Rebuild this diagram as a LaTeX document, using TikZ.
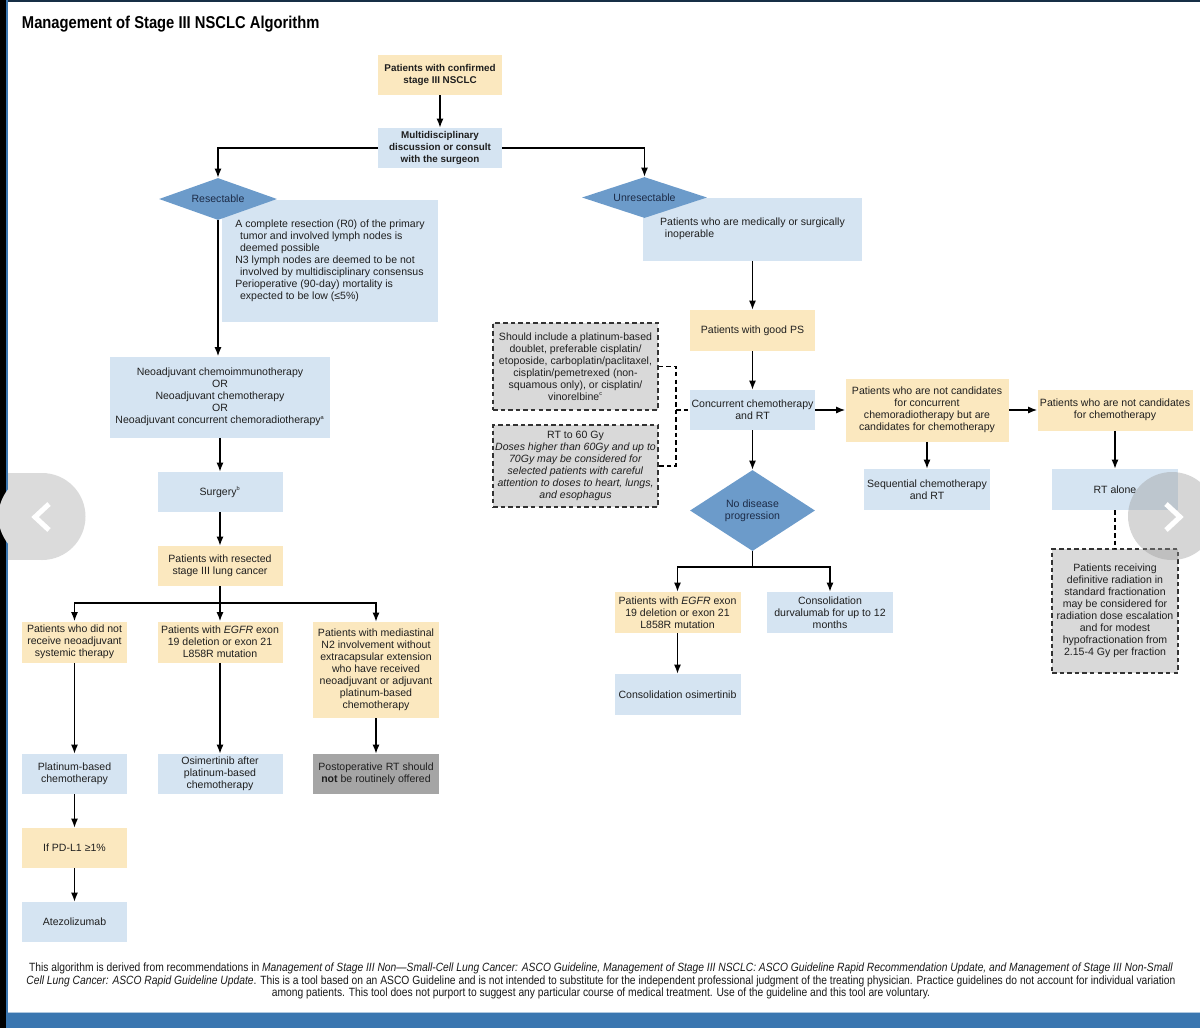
\documentclass[tikz,border=0pt]{standalone}
\usepackage{fontspec}
\setmainfont{Liberation Sans}
\newfontfamily\condfont[FakeStretch=0.86]{Liberation Sans}
\usepackage{xcolor}
\usetikzlibrary{positioning,arrows.meta,shapes.geometric}

\definecolor{boxblue}{HTML}{D5E4F2}
\definecolor{boxyellow}{HTML}{FBE8BF}
\definecolor{decblue}{HTML}{6C9BCA}
\definecolor{notegray}{HTML}{D9D9D9}
\definecolor{stopgray}{HTML}{A5A5A5}
\definecolor{bartint}{HTML}{3A76B0}
\definecolor{navytext}{HTML}{1C2B47}

\newcommand{\fnmark}[1]{\textsuperscript{\fontsize{4}{4}\selectfont #1}}

\tikzset{
    wh/.style 2 args={minimum width=#1*0.025cm, minimum height=#2*0.025cm},
    box/.style={rectangle, inner sep=1pt, align=center, text=black!88,
                font=\fontsize{7.5}{8.5}\selectfont},
    boldtext/.style={font=\fontsize{7}{8.5}\selectfont\bfseries},
    bluebox/.style={box, fill=boxblue},
    yellowbox/.style={box, fill=boxyellow},
    stopbox/.style={box, fill=stopgray},
    notebox/.style={box, fill=notegray, draw=black!80, line width=0.9pt,
                    dash pattern=on 3.2pt off 2.2pt},
    decision/.style={diamond, fill=decblue, inner sep=0pt, align=center,
                     text=navytext, font=\fontsize{7.5}{8.5}\selectfont},
    arr/.style={-{Latex[length=6.5pt,width=5pt]}, line width=0.9pt},
    dashline/.style={line width=0.9pt, dash pattern=on 3.2pt off 2.2pt},
}

\begin{document}
\begin{tikzpicture}[x=0.025cm, y=-0.025cm]
    % page frame
    \useasboundingbox (0,0) rectangle (1200,1028);
    \fill[bartint] (0,1013) rectangle (1200,1028);
    \fill[bartint!40] (0,1011.5) rectangle (1200,1013);
    \fill[black!60!bartint] (0,0) rectangle (1200,2);
    \fill[black] (0,0) rectangle (6,1028);
    \fill[bartint] (6,0) rectangle (7.5,1028);

    \node[anchor=west, font=\condfont\bfseries\fontsize{12.2}{14}\selectfont] (title)
        at (17,24) {Management of Stage III NSCLC Algorithm};

    % top of the algorithm
    \node[yellowbox, wh={124}{40}, boldtext] (confirm) at (440,75)
        {Patients with confirmed\\stage III NSCLC};
    \node[bluebox, wh={124}{40}, boldtext] (multi) at (440,148)
        {Multidisciplinary\\discussion or consult\\with the surgeon};

    % resectable branch
    \node[bluebox, wh={216}{122}, align=left] (crit) at (330,261)
        {A complete resection (R0) of the primary\\
         \hspace*{0.45em}tumor and involved lymph nodes is\\
         \hspace*{0.45em}deemed possible\\
         N3 lymph nodes are deemed to be not\\
         \hspace*{0.45em}involved by multidisciplinary consensus\\
         Perioperative (90-day) mortality is\\
         \hspace*{0.45em}expected to be low (≤5\%)};
    \node[decision, aspect=3, wh={118}{42}] (resect) at (218,199) {Resectable};

    \node[bluebox, wh={220}{81}] (neo) at (220,397)
        {Neoadjuvant chemoimmunotherapy\\OR\\Neoadjuvant chemotherapy\\OR\\
         Neoadjuvant concurrent chemoradiotherapy\fnmark{a}};
    \node[bluebox, wh={125}{40}] (surgery) at (220,492) {Surgery\fnmark{b}};
    \node[yellowbox, wh={125}{40}] (resected) at (220,566)
        {Patients with resected\\stage III lung cancer};

    \node[yellowbox, wh={105}{41}] (noneo) at (74.5,642)
        {Patients who did not\\receive neoadjuvant\\systemic therapy};
    \node[yellowbox, wh={125}{41}] (egfra) at (220,642)
        {Patients with \textit{EGFR} exon\\19 deletion or exon 21\\L858R mutation};
    \node[yellowbox, wh={126}{96}] (ntwo) at (376,670)
        {Patients with mediastinal\\N2 involvement without\\extracapsular extension\\
         who have received\\neoadjuvant or adjuvant\\platinum-based\\chemotherapy};

    \node[bluebox, wh={105}{40}] (plat) at (74.5,774) {Platinum-based\\chemotherapy};
    \node[bluebox, wh={125}{40}] (osia) at (220,774)
        {Osimertinib after\\platinum-based\\chemotherapy};
    \node[stopbox, wh={126}{40}] (noport) at (376,774)
        {Postoperative RT should\\\textbf{not} be routinely offered};
    \node[yellowbox, wh={105}{40}] (pdl) at (74.5,848) {If PD-L1 ≥1\%};
    \node[bluebox, wh={105}{40}] (atezo) at (74.5,922) {Atezolizumab};

    % unresectable branch
    \node[bluebox, wh={219}{63}, align=left] (inop) at (752.5,229)
        {Patients who are medically or surgically\\\hspace*{0.45em}inoperable};
    \node[decision, aspect=3, wh={125}{41}] (unres) at (644.5,197.5) {Unresectable};
    \node[yellowbox, wh={125}{41}] (goodps) at (752.5,330.5) {Patients with good PS};
    \node[bluebox, wh={125}{40}] (conc) at (752.5,410)
        {Concurrent chemotherapy\\and RT};

    \node[notebox, wh={165}{87}] (regimen) at (575.5,366.5)
        {Should include a platinum-based\\doublet, preferable cisplatin/\\
         etoposide, carboplatin/paclitaxel,\\cisplatin/pemetrexed (non-\\
         squamous only), or cisplatin/\\vinorelbine\fnmark{c}};
    \node[notebox, wh={165}{82}] (dose) at (575.5,466)
        {RT to 60 Gy\\\textit{Doses higher than 60Gy and up to}\\
         \textit{70Gy may be considered for}\\\textit{selected patients with careful}\\
         \textit{attention to doses to heart, lungs,}\\\textit{and esophagus}};

    \node[decision, aspect=1.54, wh={125}{81}] (nodis) at (752.5,510.5) {No disease\\progression};
    \node[yellowbox, wh={126}{41}] (egfrb) at (677.5,612.5)
        {Patients with \textit{EGFR} exon\\19 deletion or exon 21\\L858R mutation};
    \node[bluebox, wh={126}{41}] (durva) at (830,612.5)
        {Consolidation\\durvalumab for up to 12\\months};
    \node[bluebox, wh={126}{41}] (osib) at (677.5,694.5) {Consolidation osimertinib};

    \node[yellowbox, wh={163}{63}] (chemoonly) at (927,410)
        {Patients who are not candidates\\for concurrent\\
         chemoradiotherapy but are\\candidates for chemotherapy};
    \node[yellowbox, wh={155}{41}] (rtonly) at (1115,410)
        {Patients who are not candidates\\for chemotherapy};
    \node[bluebox, wh={126}{41}] (seq) at (927,489.5) {Sequential chemotherapy\\and RT};
    \node[bluebox, wh={126}{41}] (rtalone) at (1115,489.5) {RT alone};
    \node[notebox, wh={126}{124}] (hypo) at (1115,611)
        {Patients receiving\\definitive radiation in\\standard fractionation\\
         may be considered for\\radiation dose escalation\\and for modest\\
         hypofractionation from\\2.15-4 Gy per fraction};

    % connectors, left side
    \draw[arr] (confirm) -- (multi);
    \draw[arr] (multi.west) -| (resect.north);
    \draw[arr] (multi.east) -| (unres.north);
    \draw[arr] (resect.south) -- (resect.south |- neo.north);
    \draw[arr] (neo) -- (surgery);
    \draw[arr] (surgery) -- (resected);
    \coordinate (splitL) at (220,603);
    \draw[arr] (resected) -- (egfra);
    \draw[arr] (splitL) -| (noneo.north);
    \draw[arr] (splitL) -| (ntwo.north);
    \draw[arr] (noneo) -- (plat);
    \draw[arr] (egfra) -- (osia);
    \draw[arr] (ntwo) -- (noport);
    \draw[arr] (plat) -- (pdl);
    \draw[arr] (pdl) -- (atezo);

    % connectors, right side
    \draw[arr] (inop) -- (goodps);
    \draw[arr] (goodps) -- (conc);
    \draw[arr] (conc) -- (nodis);
    \draw[arr] (conc) -- (chemoonly);
    \draw[arr] (chemoonly) -- (rtonly);
    \draw[arr] (chemoonly) -- (seq);
    \draw[arr] (rtonly) -- (rtalone);
    \draw[dashline] (rtalone) -- (hypo);
    \coordinate (splitR) at (752.5,567);
    \draw[line width=0.9pt] (nodis.south) -- (splitR);
    \draw[arr] (splitR) -| (egfrb.north);
    \draw[arr] (splitR) -| (durva.north);
    \draw[arr] (egfrb) -- (osib);

    % dashed bracket to the notes
    \coordinate (brace) at (676,410);
    \draw[dashline] (regimen.east) -| (brace) |- (dose.east);
    \draw[dashline] (brace) -- (conc.west);

    % footer
    \node[font=\condfont\fontsize{8.5}{8.9}\selectfont, align=center, text=black!90] (footer)
        at (601,981)
        {This algorithm is derived from recommendations in \textit{Management of Stage III Non—Small-Cell Lung Cancer: ASCO Guideline, Management of Stage III NSCLC: ASCO Guideline Rapid Recommendation Update, and Management of Stage III Non-Small}\\
         \textit{Cell Lung Cancer: ASCO Rapid Guideline Update}. This is a tool based on an ASCO Guideline and is not intended to substitute for the independent professional judgment of the treating physician. Practice guidelines do not account for individual variation\\
         among patients. This tool does not purport to suggest any particular course of medical treatment. Use of the guideline and this tool are voluntary.};

    % carousel buttons
    \fill[black!14] (42,516.5) circle[radius=43.5];
    \fill[black!14] (7.5,473) rectangle (42,560);
    \draw[white, line width=3.6pt] (49,504) -- (35,517) -- (49,530);
    \fill[black!40, opacity=0.4] (1172,516) circle[radius=44];
    \draw[white, line width=3.6pt] (1166,504) -- (1180,517) -- (1166,530);
\end{tikzpicture}
\end{document}
